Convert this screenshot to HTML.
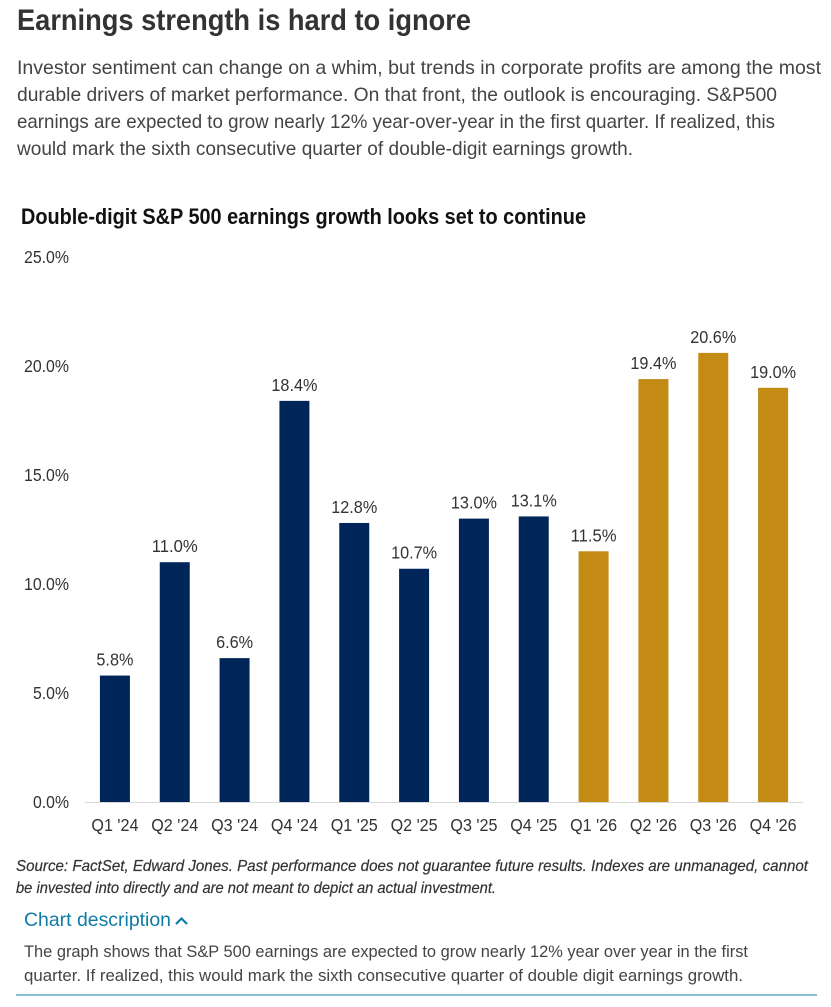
<!DOCTYPE html>
<html lang="en">
<head>
<meta charset="utf-8">
<title>Earnings strength is hard to ignore</title>
<style>
  html, body { margin: 0; padding: 0; background: #fff; }
  body { width: 831px; height: 1007px; overflow: hidden; }
  svg { display: block; font-family: "Liberation Sans", sans-serif; }
  .body-line { font-size: 19.5px; fill: #444; }
  .note-line { font-size: 16px; fill: #333; font-style: italic; font-weight: 400; stroke: #333; stroke-width: 0.2px; }
  .desc-line { font-size: 16.5px; fill: #444; }
  .tick { font-size: 17.5px; fill: #333; }
</style>
</head>
<body>
<svg id="page" width="831" height="1007" viewBox="0 0 831 1007" xmlns="http://www.w3.org/2000/svg">
  <text x="17" y="30" font-size="30" font-weight="700" fill="#333" textLength="454" lengthAdjust="spacingAndGlyphs">Earnings strength is hard to ignore</text>
  <text class="body-line" x="17" y="74" textLength="804" lengthAdjust="spacingAndGlyphs">Investor sentiment can change on a whim, but trends in corporate profits are among the most</text>
  <text class="body-line" x="17" y="101" textLength="760" lengthAdjust="spacingAndGlyphs">durable drivers of market performance. On that front, the outlook is encouraging. S&amp;P500</text>
  <text class="body-line" x="17" y="128" textLength="758" lengthAdjust="spacingAndGlyphs">earnings are expected to grow nearly 12% year-over-year in the first quarter. If realized, this</text>
  <text class="body-line" x="17" y="155" textLength="616" lengthAdjust="spacingAndGlyphs">would mark the sixth consecutive quarter of double-digit earnings growth.</text>

  <text x="21" y="224" font-size="22" font-weight="700" fill="#111" textLength="565" lengthAdjust="spacingAndGlyphs">Double-digit S&amp;P 500 earnings growth looks set to continue</text>

  <g id="chart"></g>

  <text class="note-line" x="16" y="871" textLength="792" lengthAdjust="spacingAndGlyphs">Source: FactSet, Edward Jones. Past performance does not guarantee future results. Indexes are unmanaged, cannot</text>
  <text class="note-line" x="16" y="893" textLength="480" lengthAdjust="spacingAndGlyphs">be invested into directly and are not meant to depict an actual investment.</text>

  <g style="cursor:pointer">
    <text x="24" y="926" font-size="19.5" fill="#0f7ca5" textLength="147" lengthAdjust="spacingAndGlyphs">Chart description</text>
    <path d="M176 924 L181.5 918.5 L187 924" fill="none" stroke="#0f7ca5" stroke-width="2.2"/>
  </g>
  <text class="desc-line" x="24" y="957" textLength="724" lengthAdjust="spacingAndGlyphs">The graph shows that S&amp;P 500 earnings are expected to grow nearly 12% year over year in the first</text>
  <text class="desc-line" x="24" y="981" textLength="719" lengthAdjust="spacingAndGlyphs">quarter. If realized, this would mark the sixth consecutive quarter of double digit earnings growth.</text>
  <rect x="16" y="994" width="801" height="2" fill="#8bbdd3"/>
</svg>
<script>
const categories = ["Q1 '24", "Q2 '24", "Q3 '24", "Q4 '24", "Q1 '25", "Q2 '25", "Q3 '25", "Q4 '25", "Q1 '26", "Q2 '26", "Q3 '26", "Q4 '26"];
const growthValues = [5.8, 11.0, 6.6, 18.4, 12.8, 10.7, 13.0, 13.1, 11.5, 19.4, 20.6, 19.0];
const estimateFlags = [false, false, false, false, false, false, false, false, true, true, true, true];
const yTicks = [0, 5, 10, 15, 20, 25];

const svgNS = 'http://www.w3.org/2000/svg';
const chart = document.getElementById('chart');
const plotLeft = 85, plotRight = 803, yZero = 802, yTop = 257, yMax = 25, barWidth = 30;
const yScale = v => yZero - (v / yMax) * (yZero - yTop);
const bandWidth = (plotRight - plotLeft) / categories.length;
const xCenter = i => plotLeft + bandWidth * (i + 0.5);

function makeText(str, x, y, anchor, length) {
  const t = document.createElementNS(svgNS, 'text');
  t.setAttribute('class', 'tick');
  t.setAttribute('x', x);
  t.setAttribute('y', y);
  t.setAttribute('text-anchor', anchor);
  t.setAttribute('textLength', length);
  t.setAttribute('lengthAdjust', 'spacingAndGlyphs');
  t.textContent = str;
  return t;
}

yTicks.forEach(v => {
  const tickText = v.toFixed(1) + '%';
  const label = makeText(tickText, 69, yScale(v) + 6, 'end', tickText.length > 4 ? 45 : 36);
  
  
  chart.appendChild(label);
});

const axis = document.createElementNS(svgNS, 'line');
axis.setAttribute('x1', plotLeft);
axis.setAttribute('x2', plotRight);
axis.setAttribute('y1', yZero + 0.5);
axis.setAttribute('y2', yZero + 0.5);
axis.setAttribute('stroke', '#d9d9d9');


chart.appendChild(axis);

categories.forEach((cat, i) => {
  const v = growthValues[i];
  const bar = document.createElementNS(svgNS, 'rect');
  bar.setAttribute('x', xCenter(i) - barWidth / 2);
  bar.setAttribute('y', yScale(v));
  bar.setAttribute('width', barWidth);
  bar.setAttribute('height', yZero - yScale(v));
  bar.setAttribute('fill', estimateFlags[i] ? '#c38a14' : '#002659');
  
  
  chart.appendChild(bar);

  const valueText = v.toFixed(1) + '%';
  const valueLabel = makeText(valueText, xCenter(i), yScale(v) - 10, 'middle', valueText.length > 4 ? 46 : 37);
  
  
  chart.appendChild(valueLabel);

  const catLabel = makeText(cat, xCenter(i), 831, 'middle', 47);
  
  
  chart.appendChild(catLabel);
});
</script>
</body>
</html>
